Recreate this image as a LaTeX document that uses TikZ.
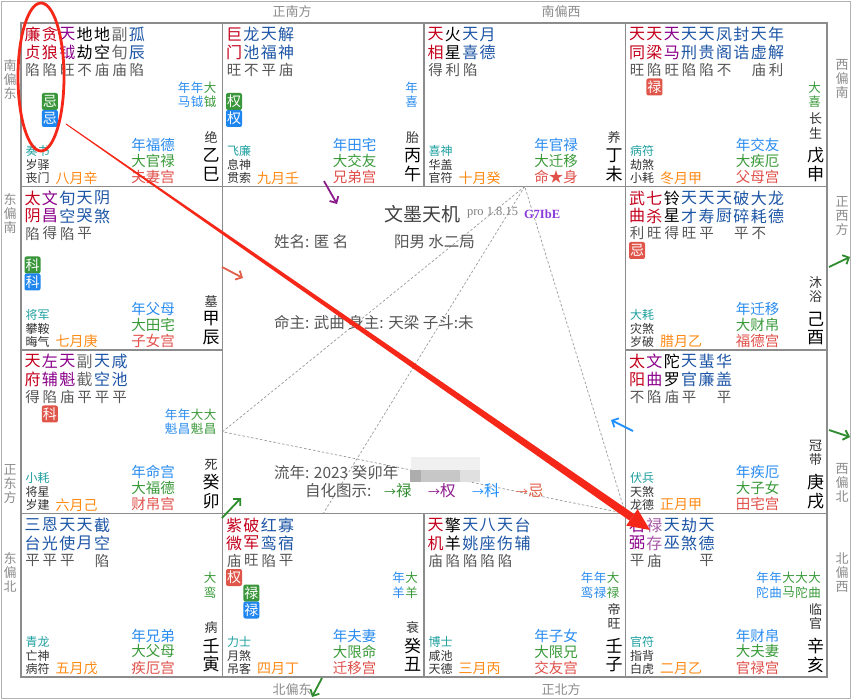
\documentclass[tikz,border=0pt]{standalone}
\usepackage{fontspec}
\setmainfont{Noto Sans CJK SC}
\newfontfamily\tms{Liberation Serif}
\usetikzlibrary{arrows.meta}
\definecolor{zred}{HTML}{C4001C}
\definecolor{zpur}{HTML}{8B008B}
\definecolor{zblu}{HTML}{1E56A6}
\definecolor{zgry}{HTML}{6A6A6A}
\definecolor{zbr}{HTML}{555555}
\definecolor{zdk}{HTML}{333333}
\definecolor{zteal}{HTML}{1FA0A0}
\definecolor{zorg}{HTML}{FF8A14}
\definecolor{ylb}{HTML}{2A8CF0}
\definecolor{dgr}{HTML}{3A9A3A}
\definecolor{psal}{HTML}{E0504A}
\definecolor{frame}{HTML}{8C8C8C}
\definecolor{dirg}{HTML}{8C8C8C}
\definecolor{bgre}{HTML}{3A963A}
\definecolor{bblu}{HTML}{1E86EE}
\definecolor{bred}{HTML}{E0554A}
\definecolor{lcp}{HTML}{A85AA8}
\definecolor{ctxt}{HTML}{555555}
\definecolor{vio}{HTML}{8A3ADB}
\definecolor{lgray}{HTML}{9A9A9A}
\definecolor{redann}{HTML}{F52718}
\definecolor{arrpur}{HTML}{8B1A8B}
\definecolor{arrsal}{HTML}{E0604A}
\definecolor{arrgre}{HTML}{2E8B2E}
\definecolor{arrblu}{HTML}{1E90FF}
\tikzset{
 every node/.style={inner sep=0pt, outer sep=0pt},
 cellbox/.style={draw=frame, line width=1.2pt, minimum width=201.5pt, minimum height=163.5pt, anchor=north west},
 stf/.style={font=\fontsize{16}{17}\selectfont},
 brf/.style={font=\fontsize{14.5}{15}\selectfont, text=zbr},
 badge/.style={rounded corners=2pt, minimum width=16pt, minimum height=17pt, text=white, font=\fontsize{14}{14}\selectfont},
 rlf/.style={font=\fontsize{12.5}{13}\selectfont},
 godf/.style={font=\fontsize{12}{12}\selectfont, anchor=west},
 monf/.style={font=\fontsize{14}{14}\selectfont, text=zorg, anchor=west},
 palf/.style={font=\fontsize{14.5}{15}\selectfont},
 stgf/.style={font=\fontsize{13}{13}\selectfont, text=zdk},
 gzf/.style={font=\fontsize{17}{17}\selectfont},
 dirf/.style={font=\fontsize{13}{14}\selectfont, text=dirg, align=center},
 ctf/.style={font=\fontsize{15.5}{16}\selectfont, text=ctxt, anchor=west},
 smarr/.style={line width=1.8pt, -{Straight Barb[length=5pt,width=10pt]}},
 triline/.style={draw=lgray, line width=0.7pt, dash pattern=on 2.5pt off 2pt},
}
\newcommand\st[5]{%
 \node[stf,text=#2] at ({11.5+17.4*(#1-1)},11.5) {#3};
 \node[stf,text=#2] at ({11.5+17.4*(#1-1)},29.5) {#4};
 \node[brf] at ({11.5+17.4*(#1-1)},47) {#5};}
\newcommand\bd[4]{\node[badge,fill=#3] at ({11.5+17.4*(#1-1)},#2) {#4};}
\newcommand\rl[4]{%
 \node[rlf,text=#2] at ({189-13*#1},64.5) {#3};
 \node[rlf,text=#2] at ({189-13*#1},79) {#4};}
\newcommand\low[7]{%
 \node[godf,text=zteal] at (4.5,128) {#1};
 \node[godf,text=zdk] at (4.5,142) {#2};
 \node[godf,text=zdk] at (4.5,155) {#3};
 \node[monf] at (34.5,155) {#4};
 \node[palf,text=ylb] at (132,122) {#5};
 \node[palf,text=dgr] at (132,138) {#6};
 \node[palf,text=psal] at (132,154) {#7};}
\newcommand\gz[2]{\node[gzf] at (190,132.5) {#1}; \node[gzf] at (190,151) {#2};}
\newcommand\sgo[1]{\node[stgf] at (190,114.5) {#1};}
\newcommand\sgt[2]{\node[stgf] at (190,96) {#1}; \node[stgf] at (190,110) {#2};}
\begin{document}
\begin{tikzpicture}[x=1pt,y=-1pt]
\useasboundingbox (0,0) rectangle (852,700);
\fill[white] (0,0) rectangle (852,700);
\draw[draw=black!30, line width=0.8pt] (1,1.5) rectangle (850,698);
% cells
\node[cellbox] (cSi) at (21,23) {};
\node[cellbox] (cWu) at (222.5,23) {};
\node[cellbox] (cWei) at (424,23) {};
\node[cellbox] (cShen) at (625.5,23) {};
\node[cellbox] (cChen) at (21,186.5) {};
\node[cellbox] (cYou) at (625.5,186.5) {};
\node[cellbox] (cMao) at (21,350) {};
\node[cellbox] (cXu) at (625.5,350) {};
\node[cellbox] (cYin) at (21,513.5) {};
\node[cellbox] (cChou) at (222.5,513.5) {};
\node[cellbox] (cZi) at (424,513.5) {};
\node[cellbox] (cHai) at (625.5,513.5) {};
% triangle
\draw[triline] (cWei.south) -- (cMao.east) -- (cHai.north west) -- cycle;
\draw[triline] (cWei.south) -- (cChou.north);
% 巳
\begin{scope}[shift={(21,23)}]
\st1{zred}{廉}{贞}{陷}\st2{zred}{贪}{狼}{陷}\st3{zpur}{天}{钺}{旺}\st4{black}{地}{劫}{不}
\st5{black}{地}{空}{庙}\st6{zgry}{副}{旬}{庙}\st7{zblu}{孤}{辰}{陷}
\bd2{78.5}{bgre}{忌}\bd2{95.5}{bblu}{忌}
\rl2{ylb}{年}{马}\rl1{ylb}{年}{钺}\rl0{dgr}{大}{钺}
\low{奏书}{岁驿}{丧门}{八月辛}{年福德}{大官禄}{夫妻宫}
\sgo{绝}\gz{乙}{巳}
\end{scope}
% 午
\begin{scope}[shift={(222.5,23)}]
\st1{zred}{巨}{门}{旺}\st2{zblu}{龙}{池}{不}\st3{zblu}{天}{福}{平}\st4{zblu}{解}{神}{庙}
\bd1{78.5}{bgre}{权}\bd1{95.5}{bblu}{权}
\rl0{ylb}{年}{喜}
\low{飞廉}{息神}{贯索}{九月壬}{年田宅}{大交友}{兄弟宫}
\sgo{胎}\gz{丙}{午}
\end{scope}
% 未
\begin{scope}[shift={(424,23)}]
\st1{zred}{天}{相}{得}\st2{black}{火}{星}{利}\st3{zblu}{天}{喜}{陷}\st4{zblu}{月}{德}{}
\low{喜神}{华盖}{官符}{十月癸}{年官禄}{大迁移}{命★身}
\sgo{养}\gz{丁}{未}
\end{scope}
% 申
\begin{scope}[shift={(625.5,23)}]
\st1{zred}{天}{同}{旺}\st2{zred}{天}{梁}{陷}\st3{zpur}{天}{马}{旺}\st4{zblu}{天}{刑}{陷}
\st5{zblu}{天}{贵}{陷}\st6{zblu}{凤}{阁}{不}\st7{zblu}{封}{诰}{}\st8{zblu}{天}{虚}{庙}\st9{zblu}{年}{解}{利}
\bd2{64}{bred}{禄}
\rl0{dgr}{大}{喜}
\low{病符}{劫煞}{小耗}{冬月甲}{年交友}{大疾厄}{父母宫}
\sgt{长}{生}\gz{戊}{申}
\end{scope}
% 辰
\begin{scope}[shift={(21,186.5)}]
\st1{zred}{太}{阴}{陷}\st2{zpur}{文}{昌}{得}\st3{zblu}{旬}{空}{陷}\st4{zblu}{天}{哭}{平}\st5{zblu}{阴}{煞}{}
\bd1{78.5}{bgre}{科}\bd1{95.5}{bblu}{科}
\low{将军}{攀鞍}{晦气}{七月庚}{年父母}{大田宅}{子女宫}
\sgo{墓}\gz{甲}{辰}
\end{scope}
% 酉
\begin{scope}[shift={(625.5,186.5)}]
\st1{zred}{武}{曲}{利}\st2{zred}{七}{杀}{旺}\st3{black}{铃}{星}{得}\st4{zblu}{天}{才}{旺}
\st5{zblu}{天}{寿}{平}\st6{zblu}{天}{厨}{}\st7{zblu}{破}{碎}{平}\st8{zblu}{大}{耗}{不}\st9{zblu}{龙}{德}{}
\bd1{64}{bred}{忌}
\low{大耗}{灾煞}{岁破}{腊月乙}{年迁移}{大财帛}{福德宫}
\sgt{沐}{浴}\gz{己}{酉}
\end{scope}
% 卯
\begin{scope}[shift={(21,350)}]
\st1{zred}{天}{府}{得}\st2{zpur}{左}{辅}{陷}\st3{zpur}{天}{魁}{庙}\st4{zgry}{副}{截}{平}
\st5{zblu}{天}{空}{平}\st6{zblu}{咸}{池}{平}
\bd2{64}{bred}{科}
\rl3{ylb}{年}{魁}\rl2{ylb}{年}{昌}\rl1{dgr}{大}{魁}\rl0{dgr}{大}{昌}
\low{小耗}{将星}{岁建}{六月己}{年命宫}{大福德}{财帛宫}
\sgo{死}\gz{癸}{卯}
\end{scope}
% 戌
\begin{scope}[shift={(625.5,350)}]
\st1{zred}{太}{阳}{不}\st2{zpur}{文}{曲}{陷}\st3{black}{陀}{罗}{庙}\st4{zblu}{天}{官}{平}
\st5{zblu}{蜚}{廉}{}\st6{zblu}{华}{盖}{平}
\low{伏兵}{天煞}{龙德}{正月甲}{年疾厄}{大子女}{田宅宫}
\sgt{冠}{带}\gz{庚}{戌}
\end{scope}
% 寅
\begin{scope}[shift={(21,513.5)}]
\st1{zblu}{三}{台}{平}\st2{zblu}{恩}{光}{平}\st3{zblu}{天}{使}{平}\st4{zblu}{天}{月}{}\st5{zblu}{截}{空}{陷}
\rl0{dgr}{大}{鸾}
\low{青龙}{亡神}{病符}{五月戊}{年兄弟}{大父母}{疾厄宫}
\sgo{病}\gz{壬}{寅}
\end{scope}
% 丑
\begin{scope}[shift={(222.5,513.5)}]
\st1{zred}{紫}{微}{庙}\st2{zred}{破}{军}{旺}\st3{zblu}{红}{鸾}{陷}\st4{zblu}{寡}{宿}{平}
\bd1{64}{bred}{权}\bd2{79.5}{bgre}{禄}\bd2{96.5}{bblu}{禄}
\rl1{ylb}{年}{羊}\rl0{dgr}{大}{羊}
\low{力士}{月煞}{吊客}{四月丁}{年夫妻}{大限命}{迁移宫}
\sgo{衰}\gz{癸}{丑}
\end{scope}
% 子
\begin{scope}[shift={(424,513.5)}]
\st1{zred}{天}{机}{庙}\st2{black}{擎}{羊}{陷}\st3{zblu}{天}{姚}{陷}\st4{zblu}{八}{座}{陷}
\st5{zblu}{天}{伤}{陷}\st6{zblu}{台}{辅}{}
\rl2{ylb}{年}{鸾}\rl1{ylb}{年}{禄}\rl0{dgr}{大}{禄}
\low{博士}{咸池}{天德}{三月丙}{年子女}{大限兄}{交友宫}
\sgt{帝}{旺}\gz{壬}{子}
\end{scope}
% 亥
\begin{scope}[shift={(625.5,513.5)}]
\st1{zpur}{右}{弼}{平}\st2{lcp}{禄}{存}{庙}\st3{zblu}{天}{巫}{}\st4{zblu}{劫}{煞}{}\st5{zblu}{天}{德}{平}
\rl4{ylb}{年}{陀}\rl3{ylb}{年}{曲}\rl2{dgr}{大}{马}\rl1{dgr}{大}{陀}\rl0{dgr}{大}{曲}
\low{官符}{指背}{白虎}{二月乙}{年财帛}{大夫妻}{官禄宫}
\sgt{临}{官}\gz{辛}{亥}
\end{scope}
% directions
\node[dirf] (dN1) at (292,12) {正南方};
\node[dirf] (dN2) at (561,12) {南偏西};
\node[dirf] (dS1) at (292,690) {北偏东};
\node[dirf] (dS2) at (561,690) {正北方};
\node[dirf] (dW1) at (10,80) {南\\偏\\东};
\node[dirf] (dW2) at (10,214) {东\\偏\\南};
\node[dirf] (dW3) at (10,484) {正\\东\\方};
\node[dirf] (dW4) at (10,572) {东\\偏\\北};
\node[dirf] (dE1) at (842,79) {西\\偏\\南};
\node[dirf] (dE2) at (842,216) {正\\西\\方};
\node[dirf] (dE3) at (842,483) {西\\偏\\北};
\node[dirf] (dE4) at (842,573) {北\\偏\\西};
% center text
\node[font=\fontsize{19}{19}\selectfont, text=black!75, anchor=west] (title) at (384,214) {文墨天机};
\node[font=\tms\fontsize{12.5}{12}\selectfont, text=gray, anchor=west] (ver) at (467,213) {pro 1.8.15};
\node[font=\tms\bfseries\fontsize{12.5}{12}\selectfont, text=vio, anchor=west] (code) at (524,214) {G7IbE};
\node[ctf] (name) at (274,242) {姓名: 匿 名};
\node[ctf] (sex) at (394,242) {阳男 水二局};
\node[ctf] (lord) at (274,323) {命主: 武曲 身主: 天梁 子斗:未};
\node[ctf] (year) at (274,473) {流年: 2023 癸卯年};
\fill[black!6] (411,457) rectangle (480,470);
\fill[black!22] (410,470) rectangle (472,482);
\fill[black!32] (410,470) rectangle (421,482);
\fill[black!12] (460,470) rectangle (480,482);
\node[ctf] (legend) at (305,491) {自化图示:};
\node[ctf, text=arrgre] (lg1) at (384,491) {{\fontsize{12}{12}\selectfont →}禄};
\node[ctf, text=arrpur] (lg2) at (428,491) {{\fontsize{12}{12}\selectfont →}权};
\node[ctf, text=arrblu] (lg3) at (472,491) {{\fontsize{12}{12}\selectfont →}科};
\node[ctf, text=arrsal] (lg4) at (516,491) {{\fontsize{12}{12}\selectfont →}忌};
% small arrows
\coordinate (a1s) at (324,181); \coordinate (a1e) at (337,204);
\coordinate (a2s) at (222,267); \coordinate (a2e) at (243,278);
\coordinate (a3s) at (222,518); \coordinate (a3e) at (241,498);
\coordinate (a4s) at (633,431); \coordinate (a4e) at (611,420);
\coordinate (a5s) at (829,267); \coordinate (a5e) at (850,257);
\coordinate (a6s) at (829,430); \coordinate (a6e) at (850,437);
\coordinate (a7s) at (322,678); \coordinate (a7e) at (312,697);
\draw[smarr, arrpur] (a1s) -- (a1e);
\draw[smarr, arrsal] (a2s) -- (a2e);
\draw[smarr, arrgre] (a3s) -- (a3e);
\draw[smarr, arrblu] (a4s) -- (a4e);
\draw[smarr, arrgre] (a5s) -- (a5e);
\draw[smarr, arrgre] (a6s) -- (a6e);
\draw[smarr, arrgre] (a7s) -- (a7e);
% red annotations
\draw[redann, line width=2.8pt] (41,77) ellipse [x radius=23pt, y radius=74pt];
\fill[redann] (65.71,124.41) -- (66.29,123.59) -- (634.18,514.12) -- (629.62,520.68) -- cycle;
\fill[redann] (637.6,509.2) -- (650,530) -- (626.2,525.6) -- cycle;
\end{tikzpicture}
\end{document}
